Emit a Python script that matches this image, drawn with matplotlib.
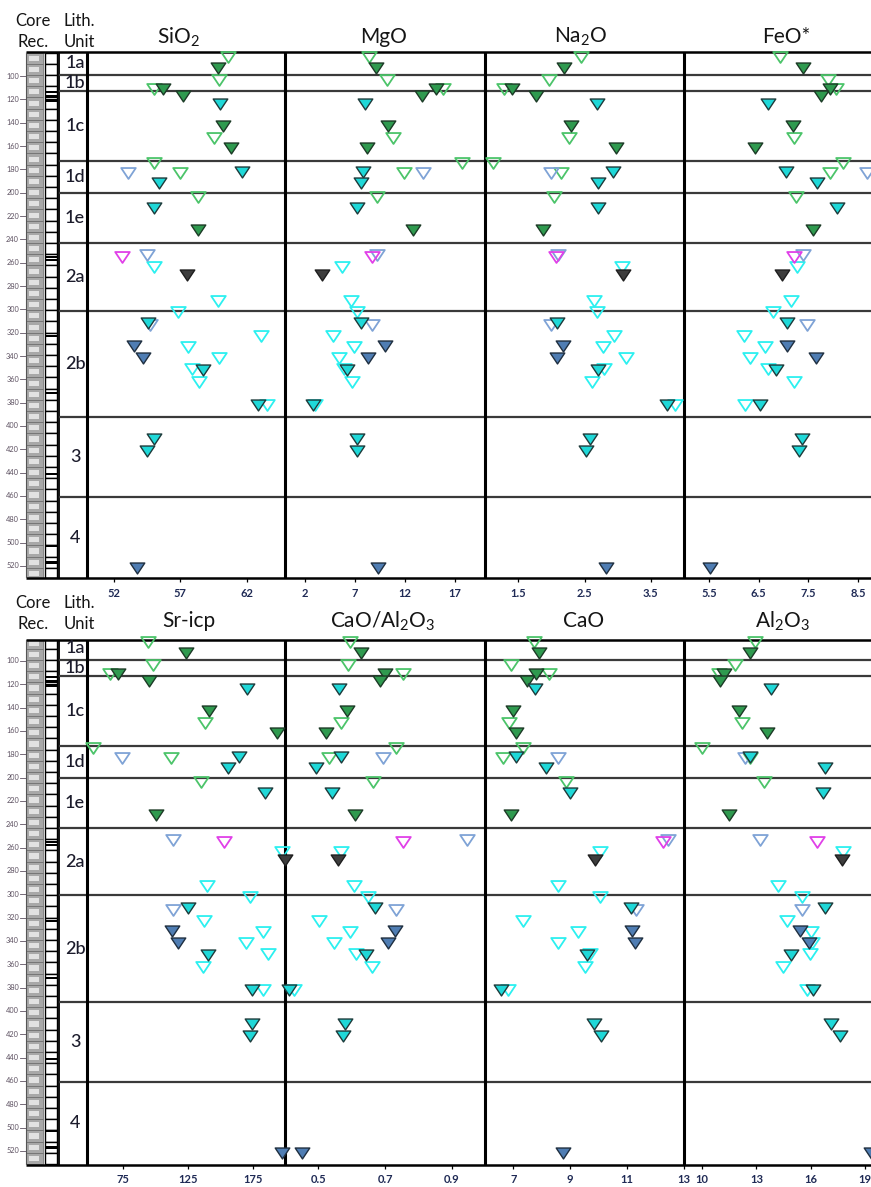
import matplotlib.pyplot as plt
from matplotlib.path import Path
from matplotlib.patches import Rectangle

plt.rcParams['font.family'] = ['Lato', 'DejaVu Sans']
plt.rcParams['mathtext.default'] = 'regular'

W, H = 871, 1187

# samples, top to bottom (depth in m, symbol code)
depth = [83.5, 93.4, 103.4, 111.4, 111.4, 116.9, 124.0, 142.6, 153.4, 162.0,
         174.3, 183.4, 183.4, 182.0, 192.0, 203.4, 213.4, 232.0, 255.0, 253.4,
         263.4, 270.6, 292.6, 302.0, 312.0, 313.5, 323.0, 331.4, 332.0, 342.0,
         342.0, 351.5, 352.0, 362.0, 382.0, 382.0, 411.4, 421.1, 522.0]
style = ['og', 'fg', 'og', 'og', 'fg', 'fg', 'fc', 'fg', 'og', 'fg',
         'og', 'ob', 'og', 'fc', 'fc', 'og', 'fc', 'fg', 'om', 'ob',
         'oc', 'fk', 'oc', 'oc', 'fc', 'ob', 'oc', 'fb', 'oc', 'fb',
         'oc', 'oc', 'fc', 'oc', 'fc', 'oc', 'fc', 'fc', 'fb']

sio2 = [60.6, 59.8, 59.9, 55.0, 55.7, 57.2, 60.0, 60.2, 59.55, 60.8,
        55.05, 53.1, 57.0, 61.6, 55.4, 58.3, 55.05, 58.3, 52.6, 54.5,
        55.05, 57.5, 59.8, 56.8, 54.55, 54.7, 63.06, 53.55, 57.55, 54.18,
        59.88, 57.88, 58.68, 58.38, 62.8, 63.5, 55.0, 54.5, 53.76]
mgo = [8.4, 9.1, 10.2, 15.8, 15.1, 13.7, 8.0, 10.3, 10.8, 8.2,
       17.7, 13.8, 11.9, 7.8, 7.6, 9.2, 7.2, 12.8, 8.7, 9.2,
       5.7, 3.7, 6.6, 7.2, 7.6, 8.7, 4.8, 10.0, 6.9, 8.3,
       5.4, 5.9, 6.2, 6.7, 2.8, 3.0, 7.2, 7.2, 9.3]
na2o = [2.45, 2.19, 1.96, 1.28, 1.40, 1.77, 2.69, 2.29, 2.26, 2.98,
        1.12, 2.00, 2.15, 2.93, 2.71, 2.04, 2.71, 1.87, 2.07, 2.10,
        3.07, 3.08, 2.64, 2.69, 2.09, 1.99, 2.94, 2.17, 2.78, 2.09,
        3.12, 2.79, 2.71, 2.62, 3.75, 3.87, 2.59, 2.52, 2.83]
feo = [6.92, 7.40, 7.90, 8.05, 7.94, 7.76, 6.68, 7.20, 7.22, 6.42,
       8.20, 8.68, 7.94, 7.06, 7.67, 7.25, 8.08, 7.60, 7.22, 7.40,
       7.27, 6.97, 7.16, 6.78, 7.08, 7.47, 6.20, 7.08, 6.62, 7.65,
       6.32, 6.68, 6.85, 7.22, 6.52, 6.22, 7.38, 7.32, 5.52]
sr = [94.4, 123.4, 97.7, 64.9, 71.3, 95.2, 170.5, 141.3, 138.0, 193.1,
      52.1, 73.9, 111.6, 163.9, 155.9, 134.7, 184.2, 100.3, 152.9, 113.6,
      197.5, 199.5, 139.3, 172.6, 125.2, 113.6, 137.2, 112.4, 182.9, 117.5,
      169.5, 186.7, 140.6, 136.7, 173.9, 182.9, 173.9, 172.6, 197.0]
cao_al2o3 = [0.596, 0.629, 0.589, 0.754, 0.700, 0.685, 0.562, 0.586, 0.569, 0.523,
             0.733, 0.695, 0.531, 0.567, 0.493, 0.663, 0.541, 0.609, 0.754, 0.945,
             0.569, 0.559, 0.606, 0.649, 0.670, 0.733, 0.503, 0.730, 0.596, 0.710,
             0.548, 0.612, 0.642, 0.660, 0.412, 0.427, 0.581, 0.574, 0.450]
cao = [7.72, 7.91, 6.90, 8.26, 7.79, 7.48, 7.75, 6.99, 6.85, 7.09,
       7.32, 8.57, 6.64, 7.09, 8.16, 8.84, 8.98, 6.90, 12.26, 12.43,
       10.06, 9.86, 8.57, 10.06, 11.15, 11.32, 7.32, 11.18, 9.28, 11.26,
       8.57, 9.68, 9.59, 9.51, 6.58, 6.82, 9.82, 10.09, 8.73]
al2o3 = [12.94, 12.67, 11.83, 10.96, 11.19, 11.00, 13.81, 12.02, 12.20, 13.59,
         9.98, 12.39, 12.67, 12.63, 16.78, 13.41, 16.70, 11.46, 16.37, 13.22,
         17.81, 17.76, 14.20, 15.54, 16.78, 15.54, 14.67, 15.41, 16.00, 15.91,
         16.10, 15.96, 14.93, 14.48, 16.15, 15.78, 17.11, 17.63, 19.33]

unit_names = ['1a', '1b', '1c', '1d', '1e', '2a', '2b', '3', '4']
unit_tops = [79.5, 99.0, 113.0, 172.5, 200.0, 243.5, 301.0, 392.5, 461.0]
depth_ticks = list(range(100, 521, 20))

top_panels = [('SiO$_2$', sio2, (50.0, 64.85), [52, 57, 62]),
              ('MgO', mgo, (0, 20), [2, 7, 12, 17]),
              ('Na$_2$O', na2o, (1, 4), [1.5, 2.5, 3.5]),
              ('FeO*', feo, (5, 9), [5.5, 6.5, 7.5, 8.5])]
bot_panels = [('Sr-icp', sr, (47.2, 199.5), [75, 125, 175]),
              ('CaO/Al$_2$O$_3$', cao_al2o3, (0.4, 1.0), [0.5, 0.7, 0.9]),
              ('CaO', cao, (6, 13), [7, 9, 11, 13]),
              ('Al$_2$O$_3$', al2o3, (9, 20), [10, 13, 16, 19])]

SYM = {
    'fg': dict(mfc='#2f9a4f', mec='#1c3a26', mew=1.0),
    'fc': dict(mfc='#1fd8d8', mec='#1d3a3a', mew=1.0),
    'fb': dict(mfc='#4f7db3', mec='#1f2f40', mew=1.0),
    'fk': dict(mfc='#3d3d3d', mec='#1e1e1e', mew=1.0),
    'og': dict(mfc='none', mec='#4cc46a', mew=1.3),
    'oc': dict(mfc='none', mec='#2cf0f0', mew=1.3),
    'ob': dict(mfc='none', mec='#7fa3d6', mew=1.3),
    'om': dict(mfc='none', mec='#e040e8', mew=1.3),
}
TRI = Path([(-1, 0.75), (1, 0.75), (0, -0.75), (-1, 0.75)],
           [Path.MOVETO, Path.LINETO, Path.LINETO, Path.CLOSEPOLY])

EDGES = [87, 285, 485, 684, 883]
TXT = '#151515'

fig = plt.figure(figsize=(W / 100, H / 100), dpi=100)


def px_axes(x0, x1, y0, y1, **kw):
    return fig.add_axes([x0 / W, 1 - y1 / H, (x1 - x0) / W, (y1 - y0) / H], **kw)


def px_text(x, y, s, **kw):
    fig.text(x / W, 1 - y / H, s, **kw)


def draw_half(panels, y0, y1, d_top, d_bot, title_x, title_y, head_y):
    bg = px_axes(0, W, y0, y1)
    bg.set_xlim(0, W)
    bg.set_ylim(d_bot, d_top)
    bg.axis('off')

    # core recovery column
    t = 80.0
    while t < d_bot - 1:
        h = min(9.6, d_bot - t)
        bg.add_patch(Rectangle((26, t), 16.5, h, fc='#a8a8a8', ec='#6a6a6a', lw=0.5))
        bg.add_patch(Rectangle((29, t + 2.6), 10, min(4.4, h * 0.5), fc='#e2e2e2', ec='none'))
        bg.add_patch(Rectangle((45, t), 12, h, fc='white', ec='black', lw=1.0))
        t += 9.6
    for b in [114, 117.5, 121, 255.5, 258, 323, 372, 441, 503, 517]:
        bg.add_patch(Rectangle((45, b - 0.9), 12, 1.8, fc='black', ec='none'))

    for d in depth_ticks:
        bg.text(19, d, str(d), ha='right', va='center', fontsize=5.3, color='#5e5262')
        bg.plot([19.5, 26], [d, d], color='#5e5262', lw=0.6)

    # lithology column and unit boundaries
    bg.vlines(59, d_top, d_bot, color='black', lw=1.3)
    bg.hlines(unit_tops[1:], 59, W, color='#3a3a3a', lw=1.6)
    bounds = unit_tops[1:] + [d_bot]
    for name, a, b in zip(unit_names, unit_tops, bounds):
        bg.text(75, (a + b) / 2, name, ha='center', va='center', fontsize=13,
                fontweight='medium', color='#1b1b2b')

    bg.hlines(d_top, 26, W, color='black', lw=1.8, clip_on=False)
    bg.hlines(d_bot, 26, W, color='black', lw=1.8, clip_on=False)
    bg.vlines(26, d_top, d_bot, color='#555555', lw=0.8)
    bg.vlines(EDGES[:4], d_top, d_bot, color='black', lw=2.2)

    px_text(33, head_y, 'Core', ha='center', va='center', fontsize=12, color=TXT)
    px_text(33, head_y + 21, 'Rec.', ha='center', va='center', fontsize=12, color=TXT)
    px_text(79, head_y, 'Lith.', ha='center', va='center', fontsize=12, color=TXT)
    px_text(79, head_y + 21, 'Unit', ha='center', va='center', fontsize=12, color=TXT)

    for i, (title, vals, lim, ticks) in enumerate(panels):
        ax = px_axes(EDGES[i], EDGES[i + 1], y0, y1, facecolor='none')
        ax.set_xlim(*lim)
        ax.set_ylim(d_bot, d_top)
        for s in ax.spines.values():
            s.set_visible(False)
        ax.set_yticks([])
        ax.set_xticks(ticks)
        ax.set_xticklabels([f'{v:g}' for v in ticks], fontsize=8,
                           fontweight='bold', color='#1f2a55')
        ax.tick_params(axis='x', length=3, width=0.9, pad=4, color='black')
        for group in ['og', 'oc', 'ob', 'om', 'fg', 'fc', 'fb', 'fk']:
            xs = [v for v, s in zip(vals, style) if s == group]
            ds = [d for d, s in zip(depth, style) if s == group]
            if not xs:
                continue
            ax.plot(xs, ds, ls='none', marker=TRI, ms=10.5, clip_on=False,
                    zorder=4 if group.startswith('f') else 3, **SYM[group])
        px_text(title_x[i], title_y, title, ha='center', va='center',
                fontsize=15, color=TXT)


draw_half(top_panels, 52, 578, 79.4, 530.3, [178, 384, 581, 786], 37, 21)
draw_half(bot_panels, 639.5, 1164.5, 81.6, 531.6, [189, 383, 584, 782], 621, 603)

fig.savefig('out.png', dpi=100)
